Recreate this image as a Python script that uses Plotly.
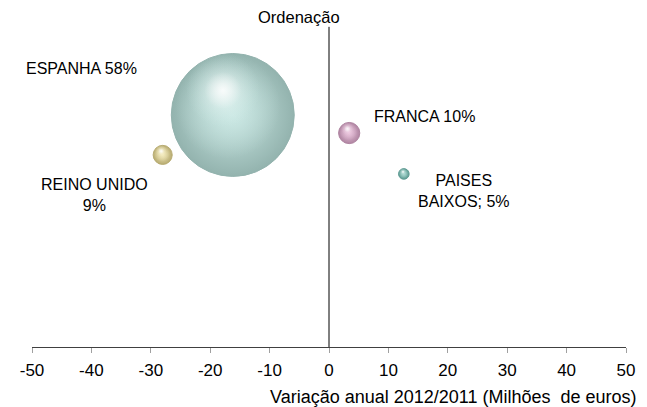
import plotly.graph_objects as go

countries = ["ESPANHA", "REINO UNIDO", "FRANCA", "PAISES BAIXOS"]
variacao = [-16.2, -28.0, 3.4, 12.6]          # x: Variação anual 2012/2011 (M€)
ordem = [73.2, 60.6, 67.5, 54.6]              # y: ordenação (eixo oculto)
quota = [58, 9, 10, 5]                         # peso (%) -> tamanho da bolha
labels = ["ESPANHA 58%", "REINO UNIDO<br>9%", "FRANCA 10%", "PAISES<br>BAIXOS; 5%"]
label_x = [-41.7, -39.4, 16.1, 22.8]
label_y = [87.9, 48.0, 72.6, 49.2]
x_ticks = [-50, -40, -30, -20, -10, 0, 10, 20, 30, 40, 50]

edge_colors = ["#93b3ae", "#b8ac72", "#b085a2", "#5f9c94"]
body_colors = ["#c8e6e2", "#efe5b5", "#e6bfd8", "#a8d6cf"]
glow_rgb = ["206,234,230", "244,236,192", "236,200,223", "176,218,211"]

PAGE_OFF = 8  # default body margin of the page
W, H = 647 - PAGE_OFF, 407 - PAGE_OFF
ML, MR, MT, MB = 32 - PAGE_OFF, 19, 30 - PAGE_OFF, 60
px_per_x = (W - ML - MR) / 100.0
px_per_y = (H - MT - MB) / 100.0
SIZE_K = 2.12
FONT = "Liberation Sans, Arial"

fig = go.Figure()

# base spheres
fig.add_trace(go.Scatter(
    x=variacao, y=ordem, mode="markers",
    marker=dict(size=quota, sizemode="diameter", sizeref=1 / SIZE_K,
                color=edge_colors,
                gradient=dict(type="radial", color=body_colors),
                line=dict(width=1, color=edge_colors), opacity=1),
    hoverinfo="text", text=countries, showlegend=False))

# inner light body (slightly up-left)
bx = [x - 0.04 * q * SIZE_K / px_per_x for x, q in zip(variacao, quota)]
by = [y + 0.07 * q * SIZE_K / px_per_y for y, q in zip(ordem, quota)]
fig.add_trace(go.Scatter(
    x=bx, y=by, mode="markers",
    marker=dict(size=[q * 0.85 for q in quota], sizemode="diameter", sizeref=1 / SIZE_K,
                color=["rgba(%s,0)" % c for c in glow_rgb],
                gradient=dict(type="radial", color=["rgba(%s,1)" % c for c in glow_rgb]),
                line=dict(width=0)),
    hoverinfo="skip", showlegend=False))

# highlights (offset up-left relative to each sphere)
hx = [x - 0.08 * q * SIZE_K / px_per_x for x, q in zip(variacao, quota)]
hy = [y + 0.2 * q * SIZE_K / px_per_y for y, q in zip(ordem, quota)]
fig.add_trace(go.Scatter(
    x=hx, y=hy, mode="markers",
    marker=dict(size=[q * 0.6 for q in quota], sizemode="diameter", sizeref=1 / SIZE_K,
                color=["rgba(%s,0)" % c for c in glow_rgb],
                gradient=dict(type="radial", color="rgba(255,255,255,1)"),
                line=dict(width=0)),
    hoverinfo="skip", showlegend=False))
fig.add_trace(go.Scatter(
    x=hx, y=hy, mode="markers",
    marker=dict(size=[q * 0.3 for q in quota], sizemode="diameter", sizeref=1 / SIZE_K,
                color="rgba(255,255,255,0)",
                gradient=dict(type="radial", color="rgba(255,255,255,0.9)"),
                line=dict(width=0)),
    hoverinfo="skip", showlegend=False))

for t, lx, ly in zip(labels, label_x, label_y):
    fig.add_annotation(x=lx, y=ly, text=t, showarrow=False,
                       font=dict(family=FONT, size=16, color="#000000"),
                       align="center")

fig.add_shape(type="line", xref="x", yref="paper", x0=0, x1=0, y0=0, y1=1.01,
              line=dict(color="#000000", width=1))

fig.add_annotation(xref="paper", yref="paper", x=(300 - 32) / (W - ML - MR), y=1.0,
                   yanchor="bottom", yshift=2, text="Ordenação", showarrow=False,
                   font=dict(family=FONT, size=16.5, color="#000000"))
fig.add_annotation(xref="paper", yref="paper", x=(641 - 32) / (W - ML - MR), xanchor="right",
                   y=-(397 - 347) / (H - MT - MB), yanchor="middle",
                   text="Variação anual 2012/2011 (Milhões  de euros)", showarrow=False,
                   font=dict(family=FONT, size=18, color="#000000"))

fig.update_xaxes(range=[-50, 50], tickvals=x_ticks, ticktext=[str(v) for v in x_ticks],
                 showgrid=False, zeroline=False, showline=True, linecolor="#404040", linewidth=1,
                 ticks="outside", ticklen=5, tickcolor="#a0a0a0", ticklabelstandoff=3,
                 tickfont=dict(family=FONT, size=17, color="#000000"))
fig.update_yaxes(range=[0, 100], visible=False)

fig.update_layout(width=W, height=H, margin=dict(l=ML, r=MR, t=MT, b=MB),
                  plot_bgcolor="white", paper_bgcolor="white", showlegend=False)

fig.write_html("out.html")
